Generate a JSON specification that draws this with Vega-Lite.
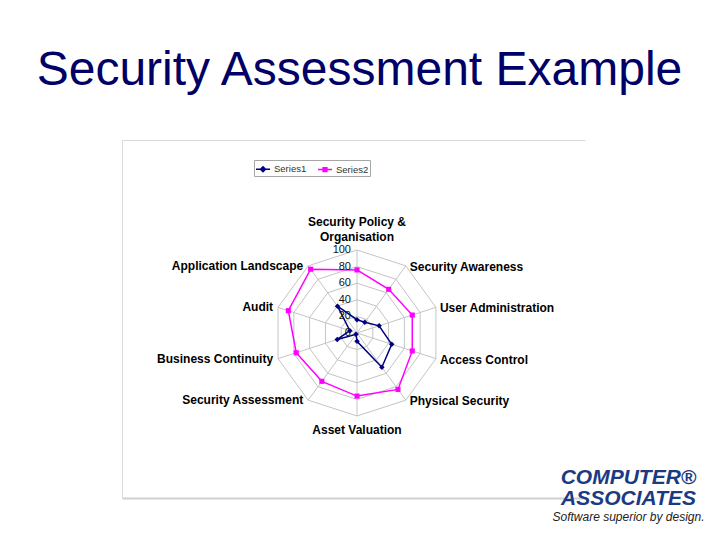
{
  "$schema": "https://vega.github.io/schema/vega-lite/v6.json",
  "width": 463,
  "height": 358,
  "autosize": {"type": "none"},
  "padding": {"left": 122, "top": 140, "right": 135, "bottom": 42},
  "background": "white",
  "title": {
    "text": "Security Assessment Example",
    "font": "Liberation Sans",
    "fontSize": 48,
    "fontWeight": "normal",
    "color": "#000066",
    "anchor": "middle",
    "frame": "group",
    "baseline": "alphabetic",
    "offset": 7,
    "dx": 6
  },
  "datasets": {
    "scores": [
      {"category": "Security Policy &\nOrganisation", "idx": 0, "Series1": 16, "Series2": 76},
      {"category": "Security Awareness", "idx": 1, "Series1": 16, "Series2": 65},
      {"category": "User Administration", "idx": 2, "Series1": 28, "Series2": 70},
      {"category": "Access Control", "idx": 3, "Series1": 44, "Series2": 70},
      {"category": "Physical Security", "idx": 4, "Series1": 51, "Series2": 84},
      {"category": "Asset Valuation", "idx": 5, "Series1": 10, "Series2": 76},
      {"category": "Security Assessment", "idx": 6, "Series1": 2, "Series2": 72},
      {"category": "Business Continuity", "idx": 7, "Series1": 25, "Series2": 77},
      {"category": "Audit", "idx": 8, "Series1": 9, "Series2": 87},
      {"category": "Application Landscape", "idx": 9, "Series1": 40, "Series2": 95}
    ],
    "rings": [
      {"level": 20, "idx": [0, 1, 2, 3, 4, 5, 6, 7, 8, 9]},
      {"level": 40, "idx": [0, 1, 2, 3, 4, 5, 6, 7, 8, 9]},
      {"level": 60, "idx": [0, 1, 2, 3, 4, 5, 6, 7, 8, 9]},
      {"level": 80, "idx": [0, 1, 2, 3, 4, 5, 6, 7, 8, 9]},
      {"level": 100, "idx": [0, 1, 2, 3, 4, 5, 6, 7, 8, 9]}
    ],
    "ticks": [
      {"level": 0}, {"level": 20}, {"level": 40}, {"level": 60}, {"level": 80}, {"level": 100}
    ]
  },
  "layer": [
    {
      "data": {"name": "rings"},
      "transform": [
        {"flatten": ["idx"]},
        {"calculate": "datum.idx * PI / 5", "as": "a"},
        {"calculate": "datum.level * sin(datum.a)", "as": "px"},
        {"calculate": "datum.level * cos(datum.a)", "as": "py"}
      ],
      "mark": {"type": "line", "interpolate": "linear-closed", "color": "#c4c4c4", "strokeWidth": 1},
      "encoding": {
        "x": {
          "field": "px", "type": "quantitative",
          "scale": {"domain": [-283.13, 274.7], "nice": false, "zero": false},
          "axis": {
            "orient": "bottom", "grid": false, "ticks": false, "labels": false,
            "domain": true, "domainColor": "#d0d0d0", "domainWidth": 2,
            "title": ["COMPUTER®", "ASSOCIATES"],
            "titleFont": "Liberation Sans", "titleFontSize": 21, "titleFontWeight": "bold",
            "titleFontStyle": "italic", "titleColor": "#1c3a82",
            "titleX": 506, "titleY": -15, "titleAlign": "center", "titleBaseline": "alphabetic",
            "titleLineHeight": 21
          }
        },
        "y": {
          "field": "py", "type": "quantitative",
          "scale": {"domain": [-198.8, 232.53], "nice": false, "zero": false},
          "axis": {
            "orient": "left", "grid": false, "ticks": false, "labels": false,
            "domain": true, "domainColor": "#dadada", "domainWidth": 1,
            "title": "Software superior by design.",
            "titleFont": "Liberation Sans", "titleFontSize": 12, "titleFontWeight": "normal",
            "titleFontStyle": "italic", "titleColor": "#222222", "titleAngle": 0,
            "titleX": 506, "titleY": 380, "titleAlign": "center", "titleBaseline": "alphabetic"
          }
        },
        "detail": {"field": "level", "type": "nominal"},
        "order": {"field": "idx", "type": "quantitative"}
      }
    },
    {
      "data": {"name": "scores"},
      "transform": [
        {"calculate": "datum.idx * PI / 5", "as": "a"},
        {"calculate": "0", "as": "zx"},
        {"calculate": "0", "as": "zy"},
        {"calculate": "100 * sin(datum.a)", "as": "ex"},
        {"calculate": "100 * cos(datum.a)", "as": "ey"}
      ],
      "mark": {"type": "rule", "color": "#c4c4c4", "strokeWidth": 1},
      "encoding": {
        "x": {
          "field": "zx", "type": "quantitative",
          "scale": {"domain": [-283.13, 274.7], "nice": false, "zero": false},
          "axis": {"orient": "top", "grid": false, "ticks": false, "labels": false, "domain": true, "domainColor": "#dadada", "domainWidth": 1, "title": null}
        },
        "y": {"field": "zy", "type": "quantitative", "scale": {"domain": [-198.8, 232.53], "nice": false, "zero": false}, "axis": null},
        "x2": {"field": "ex"},
        "y2": {"field": "ey"}
      }
    },
    {
      "data": {"name": "scores"},
      "transform": [
        {"fold": ["Series1", "Series2"], "as": ["series", "value"]},
        {"calculate": "datum.idx * PI / 5", "as": "a"},
        {"calculate": "datum.value * sin(datum.a)", "as": "px"},
        {"calculate": "datum.value * cos(datum.a)", "as": "py"}
      ],
      "mark": {"type": "line", "interpolate": "linear-closed", "strokeWidth": 1.5},
      "encoding": {
        "x": {"field": "px", "type": "quantitative", "scale": {"domain": [-283.13, 274.7], "nice": false, "zero": false}, "axis": null},
        "y": {"field": "py", "type": "quantitative", "scale": {"domain": [-198.8, 232.53], "nice": false, "zero": false}, "axis": null},
        "order": {"field": "idx", "type": "quantitative"},
        "color": {
          "field": "series", "type": "nominal",
          "scale": {"domain": ["Series1", "Series2"], "range": ["#000080", "#ff00ff"]},
          "legend": {
            "title": null, "orient": "none", "legendX": 132, "legendY": 20,
            "direction": "horizontal", "fillColor": "white", "strokeColor": "#a6a6a6",
            "padding": 1, "symbolSize": 196, "labelFontSize": 9.5, "labelFont": "Liberation Sans",
            "labelColor": "#333333", "labelOffset": 3, "columnPadding": 8,
            "encode": {
              "symbols": {
                "update": {
                  "shape": {"signal": "datum.value === 'Series1' ? 'M-1,0H1M0,-0.36L0.36,0L0,0.36L-0.36,0Z' : 'M-1,0H1M-0.27,-0.27H0.27V0.27H-0.27Z'"},
                  "fill": {"signal": "datum.value === 'Series1' ? '#000080' : '#ff00ff'"},
                  "stroke": {"signal": "datum.value === 'Series1' ? '#000080' : '#ff00ff'"},
                  "strokeWidth": {"value": 1.5},
                  "opacity": {"value": 1}
                }
              }
            }
          }
        }
      }
    },
    {
      "data": {"name": "scores"},
      "transform": [
        {"calculate": "datum.idx * PI / 5", "as": "a"},
        {"calculate": "datum.Series1 * sin(datum.a)", "as": "px"},
        {"calculate": "datum.Series1 * cos(datum.a)", "as": "py"},
        {"calculate": "'Series1'", "as": "series"}
      ],
      "mark": {"type": "point", "shape": "diamond", "filled": true, "opacity": 1, "size": 30},
      "encoding": {
        "x": {"field": "px", "type": "quantitative", "scale": {"domain": [-283.13, 274.7], "nice": false, "zero": false}, "axis": null},
        "y": {"field": "py", "type": "quantitative", "scale": {"domain": [-198.8, 232.53], "nice": false, "zero": false}, "axis": null},
        "color": {"field": "series", "type": "nominal", "scale": {"domain": ["Series1", "Series2"], "range": ["#000080", "#ff00ff"]}}
      }
    },
    {
      "data": {"name": "scores"},
      "transform": [
        {"calculate": "datum.idx * PI / 5", "as": "a"},
        {"calculate": "datum.Series2 * sin(datum.a)", "as": "px"},
        {"calculate": "datum.Series2 * cos(datum.a)", "as": "py"},
        {"calculate": "'Series2'", "as": "series"}
      ],
      "mark": {"type": "point", "shape": "square", "filled": true, "opacity": 1, "size": 26},
      "encoding": {
        "x": {"field": "px", "type": "quantitative", "scale": {"domain": [-283.13, 274.7], "nice": false, "zero": false}, "axis": null},
        "y": {"field": "py", "type": "quantitative", "scale": {"domain": [-198.8, 232.53], "nice": false, "zero": false}, "axis": null},
        "color": {"field": "series", "type": "nominal", "scale": {"domain": ["Series1", "Series2"], "range": ["#000080", "#ff00ff"]}}
      }
    },
    {
      "data": {"name": "scores"},
      "transform": [
        {"filter": "datum.idx >= 1 && datum.idx <= 4"},
        {"calculate": "datum.idx * PI / 5", "as": "a"},
        {"calculate": "100 * sin(datum.a)", "as": "ex"},
        {"calculate": "100 * cos(datum.a)", "as": "ey"}
      ],
      "mark": {"type": "text", "align": "left", "baseline": "middle", "dx": 4, "dy": 1, "font": "Liberation Sans", "fontSize": 12, "fontWeight": "bold", "color": "#000000"},
      "encoding": {
        "x": {"field": "ex", "type": "quantitative", "scale": {"domain": [-283.13, 274.7], "nice": false, "zero": false}, "axis": null},
        "y": {"field": "ey", "type": "quantitative", "scale": {"domain": [-198.8, 232.53], "nice": false, "zero": false}, "axis": null},
        "text": {"field": "category", "type": "nominal"}
      }
    },
    {
      "data": {"name": "scores"},
      "transform": [
        {"filter": "datum.idx >= 6"},
        {"calculate": "datum.idx * PI / 5", "as": "a"},
        {"calculate": "100 * sin(datum.a)", "as": "ex"},
        {"calculate": "100 * cos(datum.a)", "as": "ey"}
      ],
      "mark": {"type": "text", "align": "right", "baseline": "middle", "dx": -5, "dy": 0, "font": "Liberation Sans", "fontSize": 12, "fontWeight": "bold", "color": "#000000"},
      "encoding": {
        "x": {"field": "ex", "type": "quantitative", "scale": {"domain": [-283.13, 274.7], "nice": false, "zero": false}, "axis": null},
        "y": {"field": "ey", "type": "quantitative", "scale": {"domain": [-198.8, 232.53], "nice": false, "zero": false}, "axis": null},
        "text": {"field": "category", "type": "nominal"}
      }
    },
    {
      "data": {"name": "scores"},
      "transform": [
        {"filter": "datum.idx == 0"},
        {"calculate": "0", "as": "ex"},
        {"calculate": "100", "as": "ey"}
      ],
      "mark": {"type": "text", "align": "center", "baseline": "bottom", "dy": -21, "lineBreak": "\n", "lineHeight": 15, "font": "Liberation Sans", "fontSize": 12, "fontWeight": "bold", "color": "#000000"},
      "encoding": {
        "x": {"field": "ex", "type": "quantitative", "scale": {"domain": [-283.13, 274.7], "nice": false, "zero": false}, "axis": null},
        "y": {"field": "ey", "type": "quantitative", "scale": {"domain": [-198.8, 232.53], "nice": false, "zero": false}, "axis": null},
        "text": {"field": "category", "type": "nominal"}
      }
    },
    {
      "data": {"name": "scores"},
      "transform": [
        {"filter": "datum.idx == 5"},
        {"calculate": "0", "as": "ex"},
        {"calculate": "-100", "as": "ey"}
      ],
      "mark": {"type": "text", "align": "center", "baseline": "middle", "dy": 14, "font": "Liberation Sans", "fontSize": 12, "fontWeight": "bold", "color": "#000000"},
      "encoding": {
        "x": {"field": "ex", "type": "quantitative", "scale": {"domain": [-283.13, 274.7], "nice": false, "zero": false}, "axis": null},
        "y": {"field": "ey", "type": "quantitative", "scale": {"domain": [-198.8, 232.53], "nice": false, "zero": false}, "axis": null},
        "text": {"field": "category", "type": "nominal"}
      }
    },
    {
      "data": {"name": "ticks"},
      "transform": [
        {"calculate": "0", "as": "zx"}
      ],
      "mark": {"type": "text", "align": "right", "baseline": "middle", "dx": -6, "font": "Liberation Sans", "fontSize": 11, "color": "#111111"},
      "encoding": {
        "x": {"field": "zx", "type": "quantitative", "scale": {"domain": [-283.13, 274.7], "nice": false, "zero": false}, "axis": null},
        "y": {"field": "level", "type": "quantitative", "scale": {"domain": [-198.8, 232.53], "nice": false, "zero": false}, "axis": null},
        "text": {"field": "level", "type": "quantitative"}
      }
    }
  ],
  "resolve": {"axis": {"x": "independent", "y": "independent"}},
  "config": {
    "font": "Liberation Sans",
    "view": {"stroke": null}
  }
}
